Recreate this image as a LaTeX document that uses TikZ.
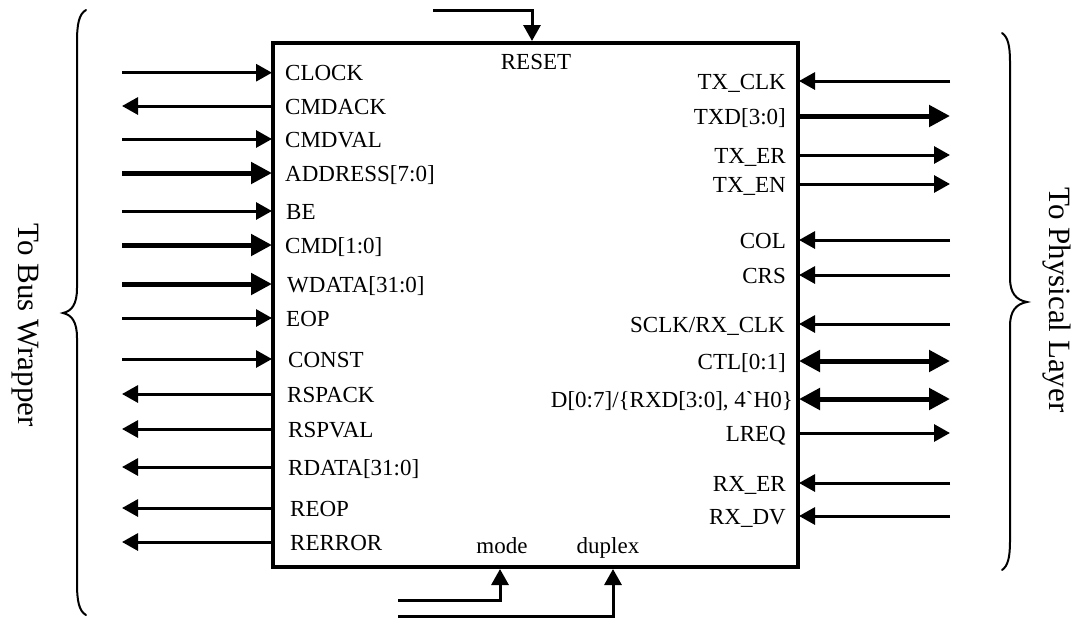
\documentclass[tikz,border=0pt]{standalone}
\usepackage{fontspec}
\setmainfont{Liberation Serif}
\usetikzlibrary{arrows.meta}
\font\gravefnt="Liberation Serif" at 23pt
\begin{document}
\begin{tikzpicture}[x=1pt,y=-1pt,line join=miter,
  sig/.style={line width=3pt},
  bus/.style={line width=5pt},
  tin/.style={sig,-{Triangle[length=16pt,width=17pt]}},
  tbus/.style={bus,-{Triangle[length=21pt,width=21pt]}},
  tboth/.style={bus,{Triangle[length=21pt,width=21pt]}-{Triangle[length=21pt,width=21pt]}},
  lbl/.style={font=\fontsize{23}{27}\selectfont,inner sep=0pt},
  side/.style={font=\fontsize{31}{35}\selectfont,inner sep=0pt,rotate=-90},
  bracestyle/.style={line width=2pt,line cap=round}]
\useasboundingbox (0,0) rectangle (1074,619);

% block
\node[draw,line width=4.5pt,inner sep=0pt,outer sep=0pt,minimum width=525pt,minimum height=524pt] (blk) at (535.5,305) {};

% left inputs (thin)
\foreach \n/\y/\t/\x in {clk/72.7/CLOCK/285,cval/139/CMDVAL/285,be/211/BE/286,eop/318/EOP/286,cst/359/CONST/288}{
  \coordinate (o\n) at (122,\y);
  \coordinate (p\n) at (272,\y);
  \draw[tin] (o\n) -- (p\n);
  \node[lbl,anchor=base west] (t\n) at (\x,\y+8) {\t};
}
% left inputs (bus)
\foreach \n/\y/\t/\x in {addr/173/ADDRESS[7:0]/285,cmd/245/CMD[1:0]/285,wd/284/WDATA[31:0]/287}{
  \coordinate (o\n) at (122,\y);
  \coordinate (p\n) at (272,\y);
  \draw[tbus] (o\n) -- (p\n);
  \node[lbl,anchor=base west] (t\n) at (\x,\y+8) {\t};
}
% left outputs (thin)
\foreach \n/\y/\t/\x in {cack/106/CMDACK/285,rack/394/RSPACK/287,rval/429/RSPVAL/288,rd/467/RDATA[31:0]/288,reop/508/REOP/290,rerr/542/RERROR/290}{
  \coordinate (o\n) at (122,\y);
  \coordinate (p\n) at (273,\y);
  \draw[tin] (p\n) -- (o\n);
  \node[lbl,anchor=base west] (t\n) at (\x,\y+8) {\t};
}

% right inputs (thin)
\foreach \n/\y in {txclk/81,col/240,crs/275,sclk/324,rxer/483,rxdv/516}{
  \coordinate (o\n) at (950,\y);
  \coordinate (p\n) at (799,\y);
  \draw[tin] (o\n) -- (p\n);
}
\node[lbl,anchor=base east] (ttxclk) at (786,89) {TX\_CLK};
\node[lbl,anchor=base east] (tcol) at (786,248) {COL};
\node[lbl,anchor=base east] (tcrs) at (786,283) {CRS};
\node[lbl,anchor=base east] (tsclk) at (785,332) {SCLK/RX\_CLK};
\node[lbl,anchor=base east] (trxer) at (786,491) {RX\_ER};
\node[lbl,anchor=base east] (trxdv) at (786,524) {RX\_DV};

% right outputs (thin)
\foreach \n/\y/\t in {txer/155/TX\_ER,txen/184/TX\_EN,lreq/433/LREQ}{
  \coordinate (o\n) at (950,\y);
  \coordinate (p\n) at (798,\y);
  \draw[tin] (p\n) -- (o\n);
  \node[lbl,anchor=base east] (t\n) at (786,\y+8) {\t};
}
% right output bus
\coordinate (otxd) at (950,116);
\coordinate (ptxd) at (798,116);
\draw[tbus] (ptxd) -- (otxd);
\node[lbl,anchor=base east] (ttxd) at (786,124) {TXD[3:0]};

% bidirectional buses
\coordinate (octl) at (950,361);
\coordinate (pctl) at (799,361);
\draw[tboth] (pctl) -- (octl);
\node[lbl,anchor=base east] (tctl) at (786,369) {CTL[0:1]};
\coordinate (od) at (950,399);
\coordinate (pd) at (799,399);
\draw[tboth] (pd) -- (od);
\node[lbl,anchor=base east] (td) at (793,407) {D[0:7]/\{RXD[3:0], 4{\gravefnt\char96}H0\}};

% RESET
\coordinate (rsA) at (433,10);
\coordinate (rsB) at (532,41);
\draw[tin] (rsA) -| (rsB);
\node[lbl,anchor=base] (trs) at (536,69) {RESET};

% mode / duplex
\coordinate (mdA) at (398,600);
\coordinate (mdB) at (500,569);
\draw[tin] (mdA) -| (mdB);
\node[lbl,anchor=base] (tmd) at (502,553) {mode};
\coordinate (dxA) at (398,616);
\coordinate (dxB) at (613,569);
\draw[tin] (dxA) -| (dxB);
\node[lbl,anchor=base] (tdx) at (608,553) {duplex};

% braces
\draw[bracestyle] (86,10) .. controls (79,14) and (77,24) .. (77,42)
  -- (77,288) .. controls (77,304) and (72,311) .. (63,313)
  .. controls (72,315) and (77,322) .. (77,338)
  -- (77,583) .. controls (77,601) and (79,611) .. (86,615);
\draw[bracestyle] (1002,33) .. controls (1008,37) and (1010,46) .. (1010,62)
  -- (1010,278) .. controls (1010,293) and (1016,300) .. (1027,302)
  .. controls (1016,304) and (1010,311) .. (1010,326)
  -- (1010,541) .. controls (1010,557) and (1008,566) .. (1002,570);

\node[side] (bw) at (25,325) {To Bus Wrapper};
\node[side] (pl) at (1057,300) {To Physical Layer};
\end{tikzpicture}
\end{document}
